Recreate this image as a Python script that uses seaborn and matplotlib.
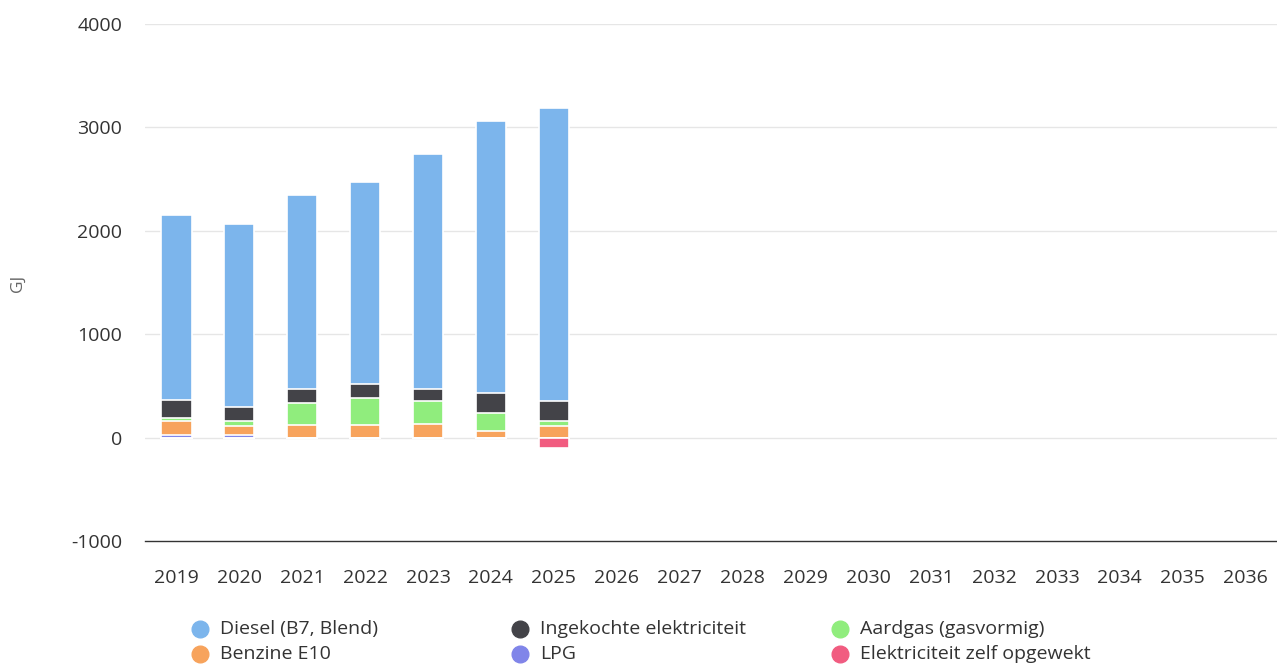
import matplotlib
matplotlib.use("Agg")
import matplotlib.pyplot as plt
from matplotlib.lines import Line2D
import numpy as np
import pandas as pd
import seaborn as sns

years = [str(y) for y in range(2019, 2037)]
data_years = ["2019", "2020", "2021", "2022", "2023", "2024", "2025"]

# stacked from bottom to top
lpg = [25, 22, 0, 0, 0, 0, 0]
benzine = [140, 95, 125, 125, 128, 68, 113]
aardgas = [25, 45, 210, 258, 227, 167, 48]
ingekocht = [170, 130, 135, 132, 115, 193, 194]
diesel = [1795, 1773, 1878, 1955, 2271, 2638, 2830]
zelf_opgewekt = [0, 0, 0, 0, 0, 0, -100]

series_names = ["LPG", "Benzine E10", "Aardgas (gasvormig)",
                "Ingekochte elektriciteit", "Diesel (B7, Blend)"]
series_values = [lpg, benzine, aardgas, ingekocht, diesel]
colors = {
    "Diesel (B7, Blend)": "#7cb5ec",
    "Ingekochte elektriciteit": "#434348",
    "Aardgas (gasvormig)": "#90ed7d",
    "Benzine E10": "#f7a35c",
    "LPG": "#8085e9",
    "Elektriciteit zelf opgewekt": "#f15c80",
}
legend_order = ["Diesel (B7, Blend)", "Ingekochte elektriciteit", "Aardgas (gasvormig)",
                "Benzine E10", "LPG", "Elektriciteit zelf opgewekt"]

sns.set_style("white")
plt.rcParams["font.family"] = ["Open Sans", "DejaVu Sans"]
plt.rcParams["axes.unicode_minus"] = False

W, H = 1277, 666
fig = plt.figure(figsize=(W / 100, H / 100), dpi=100)
ax = fig.add_axes([145 / W, (H - 541) / H, 1132 / W, (541 - 24) / H])

# cumulative totals, draw tallest first so lower segments overlap
df = pd.DataFrame({"year": data_years})
cum = np.zeros(len(data_years))
cums = []
for name, vals in zip(series_names, series_values):
    cum = cum + np.array(vals, dtype=float)
    cums.append((name, cum.copy()))

for name, c in reversed(cums):
    df["v"] = c
    sns.barplot(data=df, x="year", y="v", order=years, color=colors[name],
                width=0.48, edgecolor="white", linewidth=1.2, saturation=1,
                errorbar=None, ax=ax, zorder=3)

df["v"] = np.array(zelf_opgewekt, dtype=float)
sns.barplot(data=df, x="year", y="v", order=years,
            color=colors["Elektriciteit zelf opgewekt"], width=0.48,
            edgecolor="white", linewidth=1.2, saturation=1,
            errorbar=None, ax=ax, zorder=3)

ax.set_xlim(-0.5, len(years) - 0.5)
ax.set_ylim(-1000, 4000)
ax.set_yticks([-1000, 0, 1000, 2000, 3000, 4000])
for yv in [0, 1000, 2000, 3000, 4000]:
    ax.axhline(yv, color="#e6e6e6", linewidth=1, zorder=1)
for s in ["top", "right", "left"]:
    ax.spines[s].set_visible(False)
ax.spines["bottom"].set_color("#333333")
ax.spines["bottom"].set_linewidth(1)
ax.tick_params(axis="both", length=0, labelsize=14, colors="#333333")
ax.tick_params(axis="x", pad=20)
ax.tick_params(axis="y", pad=16.5)
ax.set_xlabel("")
ax.set_ylabel("")
fig.text(18 / W, 1 - 283 / H, "GJ", rotation=90, ha="center", va="center",
         fontsize=12.5, color="#666666")

# legend laid out in rows of three, like the original
col_x = [200, 520, 840]
row_y = [629, 654]
for i, name in enumerate(legend_order):
    cx = col_x[i % 3]
    cy = row_y[i // 3]
    fig.add_artist(Line2D([cx / W], [1 - cy / H], marker="o", linestyle="",
                          markersize=12, markerfacecolor=colors[name],
                          markeredgecolor=colors[name], transform=fig.transFigure))
    fig.text((cx + 20) / W, 1 - cy / H, name, ha="left", va="center",
             fontsize=14, color="#333333")

fig.savefig("out.png", dpi=100)
